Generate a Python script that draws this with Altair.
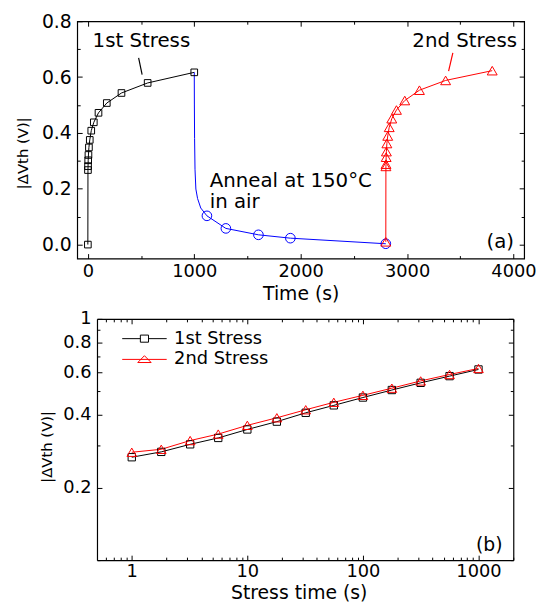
import altair as alt
import pandas as pd

FONT = "DejaVu Sans"

# ---------------- data ----------------
stress_time = [1, 1.8, 3.2, 5.6, 10, 18, 32, 56, 100, 178, 316, 562, 1000]
dvth_1st = [0.267, 0.281, 0.302, 0.321, 0.348, 0.375, 0.408, 0.438, 0.472, 0.507, 0.543, 0.579, 0.617]
dvth_2nd = [0.280, 0.288, 0.313, 0.333, 0.362, 0.389, 0.420, 0.451, 0.482, 0.516, 0.553, 0.588, 0.623]
series_names = ["1st Stress", "2nd Stress"]

# panel (a): full time sequence
time_1st = [0, 1, 1.8, 3.2, 5.6, 10, 18, 32, 56, 100, 178, 316, 562, 1000]
val_1st = [0.0, 0.267, 0.281, 0.302, 0.321, 0.348, 0.375, 0.408, 0.438, 0.472, 0.507, 0.543, 0.579, 0.617]
anneal_time = [1000, 1001, 1003, 1007, 1015, 1031, 1061, 1119, 1297, 1603, 1903, 2800]
anneal_val = [0.617, 0.50, 0.38, 0.27, 0.199, 0.165, 0.131, 0.103, 0.058, 0.035, 0.023, 0.003]
anneal_marker = [False, False, False, False, False, False, False, True, True, True, True, True]
time_2nd = [2800, 2801, 2801.8, 2803.2, 2805.6, 2810, 2818, 2832, 2856, 2900, 2978, 3116, 3362, 3800]
val_2nd = [0.010, 0.280, 0.288, 0.313, 0.333, 0.362, 0.389, 0.420, 0.451, 0.482, 0.516, 0.553, 0.588, 0.623]

# annotations (data coordinates)
note_text = ["1st Stress", "2nd Stress"]
note_t = [503, 3541]
note_v = [0.728, 0.728]
anneal_text = ["Anneal at 150°C", "in air"]
anneal_text_t = [1145, 1145]
anneal_text_v = [0.228, 0.153]
leader_t = [477, 3430]
leader_v = [0.669, 0.687]
leader_t2 = [510, 3390]
leader_v2 = [0.609, 0.621]
leader_color = ["black", "red"]
panel_a_label = ["(a)"]
panel_a_label_t = [4005]
panel_a_label_v = [0.010]
panel_b_label = ["(b)"]
panel_b_label_t = [1614]
panel_b_label_v = [0.116]

# ticks
a_x_major = [0, 1000, 2000, 3000, 4000]
a_x_minor = [500, 1500, 2500, 3500]
a_y_major = [0.0, 0.2, 0.4, 0.6, 0.8]
a_y_minor = [0.1, 0.3, 0.5, 0.7]
b_x_major = [1, 10, 100, 1000]
b_x_minor = [0.6, 0.7, 0.8, 0.9, 2, 3, 4, 5, 6, 7, 8, 9, 20, 30, 40, 50, 60, 70, 80, 90,
             200, 300, 400, 500, 600, 700, 800, 900, 2000]
b_y_major = [0.2, 0.4, 0.6, 0.8, 1]
b_y_minor = [0.1, 0.3, 0.5, 0.7, 0.9]

# ---------------- tables ----------------
df1 = pd.DataFrame({"t": time_1st, "v": val_1st})
dfan = pd.DataFrame({"t": anneal_time, "v": anneal_val, "m": anneal_marker})
df2 = pd.DataFrame({"t": time_2nd, "v": val_2nd})
dfnote = pd.DataFrame({"t": note_t, "v": note_v, "label": note_text})
dfann = pd.DataFrame({"t": anneal_text_t, "v": anneal_text_v, "label": anneal_text})
dflead = pd.DataFrame({"t": leader_t, "v": leader_v, "t2": leader_t2, "v2": leader_v2, "c": leader_color})
dfpa = pd.DataFrame({"t": panel_a_label_t, "v": panel_a_label_v, "label": panel_a_label})
dfpb = pd.DataFrame({"t": panel_b_label_t, "v": panel_b_label_v, "label": panel_b_label})
dfb1 = pd.DataFrame({"t": stress_time, "v": dvth_1st, "series": [series_names[0]] * len(stress_time)})
dfb2 = pd.DataFrame({"t": stress_time, "v": dvth_2nd, "series": [series_names[1]] * len(stress_time)})

# ---------------- layout ----------------
A_W, A_H = 452, 240
B_SHIFT, B_PLOT_W, B_H = 20, 421, 244
B_W = B_SHIFT + B_PLOT_W

xa = alt.Scale(domain=[-100, 4100], nice=False, zero=False)
ya = alt.Scale(domain=[-0.05, 0.8], nice=False, zero=False)
xb = alt.Scale(type="log", domain=[0.5, 2000], nice=False, range=[B_SHIFT, B_W])
yb = alt.Scale(type="log", domain=[0.1, 1], nice=False)

COMMON = dict(labelOverlap=False, grid=False)


def xy(xs, ys):
    return dict(x=alt.X("t:Q", scale=xs, axis=None), y=alt.Y("v:Q", scale=ys, axis=None))


def ax_layer(df, xs, ys, xaxis, yaxis):
    return alt.Chart(df).mark_point(opacity=0).encode(
        x=alt.X("t:Q", scale=xs, axis=xaxis), y=alt.Y("v:Q", scale=ys, axis=yaxis))


def tick_axis(orient, values, size, offset):
    return alt.Axis(orient=orient, values=values, labels=False, tickSize=size, offset=offset,
                    domain=False, title=None, **COMMON)


# ---------------- panel (a) ----------------
line1 = alt.Chart(df1).mark_line(color="black", strokeWidth=1).encode(**xy(xa, ya))
pts1 = alt.Chart(df1).mark_point(shape="square", size=45, color="black", filled=False,
                                 strokeWidth=1, opacity=1).encode(**xy(xa, ya))
linean = alt.Chart(dfan).mark_line(color="#0000ff", strokeWidth=1).encode(**xy(xa, ya))
ptsan = alt.Chart(dfan).transform_filter("datum.m").mark_point(
    shape="circle", size=95, color="#0000ff", filled=False, strokeWidth=1, opacity=1
).encode(**xy(xa, ya))
line2 = alt.Chart(df2).mark_line(color="red", strokeWidth=1).encode(**xy(xa, ya))
pts2 = alt.Chart(df2).mark_point(shape="triangle-up", size=100, color="red", filled=False,
                                 strokeWidth=1, opacity=1).encode(**xy(xa, ya))
notes = alt.Chart(dfnote).mark_text(font=FONT, fontSize=20, color="black", align="center",
                                    baseline="middle").encode(**xy(xa, ya), text="label:N")
annt = alt.Chart(dfann).mark_text(font=FONT, fontSize=20, color="black", align="left",
                                  baseline="middle").encode(**xy(xa, ya), text="label:N")
leads = alt.Chart(dflead).mark_rule(strokeWidth=1.2).encode(
    **xy(xa, ya), x2="t2:Q", y2="v2:Q", color=alt.Color("c:N", scale=None))
labela = alt.Chart(dfpa).mark_text(font=FONT, fontSize=20, color="black", align="right",
                                   baseline="middle").encode(**xy(xa, ya), text="label:N")

a_main = ax_layer(
    df1, xa, ya,
    alt.Axis(orient="bottom", values=a_x_major, format="d", tickSize=5, offset=-5, domain=False,
             labelPadding=4, labelFontSize=18, title="Time (s)", titleFontSize=19,
             titlePadding=4, **COMMON),
    alt.Axis(orient="left", values=a_y_major, format=".1f", tickSize=5, offset=-5, domain=False,
             labelPadding=6, labelFontSize=19, title="|ΔVth (V)|", titleFontSize=15,
             titleX=-60, titleY=133, titleAngle=270, titleAlign="center",
             titleBaseline="middle", **COMMON),
)
a_minor = ax_layer(df1, xa, ya, tick_axis("bottom", a_x_minor, 3, -3), tick_axis("left", a_y_minor, 3, -3))
a_top = ax_layer(df1, xa, ya, tick_axis("top", a_x_major, 5, -5), tick_axis("right", a_y_major, 5, -5))
a_top2 = ax_layer(df1, xa, ya, tick_axis("top", a_x_minor, 3, -3), tick_axis("right", a_y_minor, 3, -3))
a_spacer = ax_layer(
    df1, xa, ya, None,
    alt.Axis(orient="left", ticks=False, labels=False, domain=False, grid=False, title=".",
             titleColor="white", titleFontSize=2, titleX=-69, titleY=200, titleAngle=0,
             titleAlign="center", titleBaseline="middle"),
)

panel_a = alt.layer(
    line1, linean, line2, pts1, ptsan, pts2, notes, annt, leads, labela,
    a_main, a_minor, a_top, a_top2, a_spacer,
).properties(
    width=A_W, height=A_H, view=alt.ViewBackground(stroke="black", strokeWidth=1.2)
).resolve_axis(x="independent", y="independent")

# ---------------- panel (b) ----------------
path_sq = "M-3,0H-0.55M0.55,0H3M-0.55,-0.48H0.55V0.48H-0.55Z"
path_tri = "M-3,0H3M0,-0.5L0.9,0.42H-0.9Z"
leg_common = dict(orient="none", legendX=59, title=None, padding=0,
                  labelFont=FONT, labelFontSize=18, labelColor="black", labelOffset=21,
                  symbolSize=225, symbolStrokeWidth=1, symbolFillColor="transparent",
                  direction="vertical")
lineb1 = alt.Chart(dfb1).mark_line(strokeWidth=1).encode(
    **xy(xb, yb),
    color=alt.Color("series:N", scale=alt.Scale(domain=[series_names[0]], range=["black"]),
                    legend=alt.Legend(legendY=11, symbolType=path_sq,
                                      symbolStrokeColor="black", **leg_common)),
)
lineb2 = alt.Chart(dfb2).mark_line(strokeWidth=1).encode(
    **xy(xb, yb),
    stroke=alt.Stroke("series:N", scale=alt.Scale(domain=[series_names[1]], range=["red"]),
                      legend=alt.Legend(legendY=32, symbolType=path_tri,
                                        symbolStrokeColor="red", **leg_common)),
)
ptsb1 = alt.Chart(dfb1).mark_point(
    shape="square", size=55, color="black", filled=False, strokeWidth=1, opacity=1
).encode(**xy(xb, yb))
ptsb2 = alt.Chart(dfb2).mark_point(
    shape="triangle-up", size=95, color="red", filled=False, strokeWidth=1, opacity=1
).encode(**xy(xb, yb))
labelb = alt.Chart(dfpb).mark_text(font=FONT, fontSize=19, color="black", align="right",
                                   baseline="middle").encode(**xy(xb, yb), text="label:N")

b_main = ax_layer(
    dfb1, xb, yb,
    alt.Axis(orient="bottom", values=b_x_major, format="~g", tickSize=5, offset=-5, domain=False,
             labelPadding=3, labelFontSize=18, title="Stress time (s)", titleFontSize=19,
             titlePadding=3, titleX=224, **COMMON),
    alt.Axis(orient="left", values=b_y_major, format="~g", tickSize=5, offset=-(B_SHIFT + 5),
             domain=False, labelPadding=6, labelFontSize=18, title="|ΔVth (V)|",
             titleFontSize=15, titleX=-56, titleY=129, titleAngle=270, titleAlign="center",
             titleBaseline="middle", **COMMON),
)
b_minor = ax_layer(dfb1, xb, yb, tick_axis("bottom", b_x_minor, 3, -3),
                   tick_axis("left", b_y_minor, 3, -(B_SHIFT + 3)))
b_top = ax_layer(dfb1, xb, yb, tick_axis("top", b_x_major, 5, -5), tick_axis("right", b_y_major, 5, -5))
b_top2 = ax_layer(dfb1, xb, yb, tick_axis("top", b_x_minor, 3, -3), tick_axis("right", b_y_minor, 3, -3))
frame_kw = dict(domain=True, domainColor="black", domainWidth=1.2, ticks=False, labels=False,
                title=None, grid=False)
b_frame1 = ax_layer(dfb1, xb, yb, alt.Axis(orient="bottom", offset=0, **frame_kw),
                    alt.Axis(orient="left", offset=-B_SHIFT, **frame_kw))
b_frame2 = ax_layer(dfb1, xb, yb, alt.Axis(orient="top", offset=0, **frame_kw),
                    alt.Axis(orient="right", offset=0, **frame_kw))

panel_b = alt.layer(
    lineb1, lineb2, ptsb1, ptsb2, labelb,
    b_frame1, b_frame2, b_main, b_minor, b_top, b_top2,
).properties(
    width=B_W, height=B_H, view=alt.ViewBackground(stroke="transparent", strokeWidth=0)
).resolve_axis(x="independent", y="independent")

chart = alt.vconcat(panel_a, panel_b, spacing=6).resolve_scale(
    color="independent", stroke="independent"
).resolve_legend(color="independent", stroke="independent").properties(
    padding=0
).configure_axis(
    labelFont=FONT, titleFont=FONT, labelColor="black", titleColor="black",
    tickColor="black", tickWidth=1, titleFontWeight="normal", grid=False,
)

chart.save("out.html", embed_options={"renderer": "svg", "actions": False})
